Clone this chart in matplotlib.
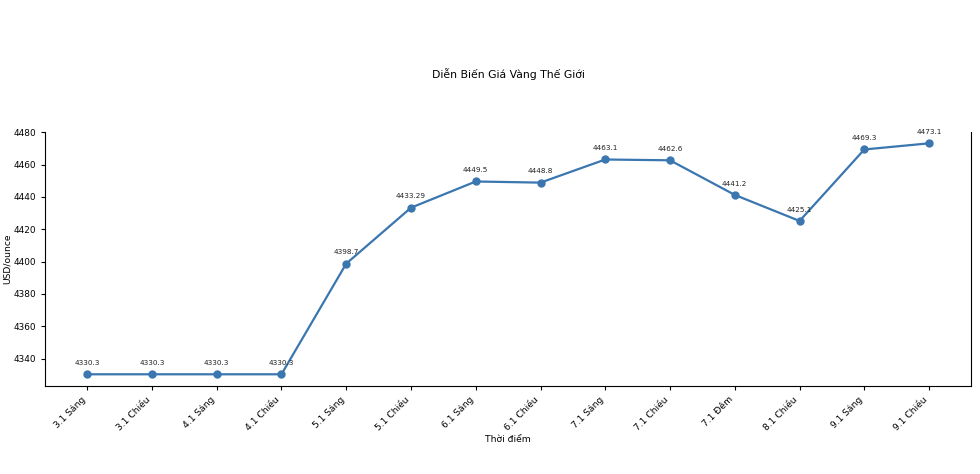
import matplotlib
matplotlib.use("Agg")
import matplotlib.pyplot as plt

times = ["3.1 Sáng", "3.1 Chiều", "4.1 Sáng", "4.1 Chiều", "5.1 Sáng", "5.1 Chiều",
         "6.1 Sáng", "6.1 Chiều", "7.1 Sáng", "7.1 Chiều", "7.1 Đêm", "8.1 Chiều",
         "9.1 Sáng", "9.1 Chiều"]
prices = [4330.3, 4330.3, 4330.3, 4330.3, 4398.7, 4433.29, 4449.5, 4448.8,
          4463.1, 4462.6, 4441.2, 4425.1, 4469.3, 4473.1]
price_labels = ["4330.3", "4330.3", "4330.3", "4330.3", "4398.7", "4433.29", "4449.5",
                "4448.8", "4463.1", "4462.6", "4441.2", "4425.1", "4469.3", "4473.1"]

fig = plt.figure(figsize=(9.8, 4.74), dpi=100)
ax = fig.add_axes([0.046, 0.186, 0.945, 0.536])
x = list(range(len(times)))
ax.plot(x, prices, color="#3a76af", marker="o", markersize=5, linewidth=1.6)
for xi, p, lab in zip(x, prices, price_labels):
    ax.annotate(lab, (xi, p), xytext=(0, 6), textcoords="offset points",
                ha="center", va="bottom", fontsize=5.2, color="#222222")
ax.set_xticks(x)
ax.set_xticklabels(times, rotation=45, ha="right", fontsize=6.6)
ax.tick_params(axis="y", labelsize=6.4)
ax.tick_params(length=3)
ax.set_yticks([4340, 4360, 4380, 4400, 4420, 4440, 4460, 4480])
ax.set_xlabel("Thời điểm", fontsize=6.6, labelpad=2)
ax.set_ylabel("USD/ounce", fontsize=6.6, labelpad=1.5)
ax.set_title("Diễn Biến Giá Vàng Thế Giới", fontsize=7.8, pad=39)
ax.spines["top"].set_visible(False)
fig.savefig("out.png", dpi=100)
